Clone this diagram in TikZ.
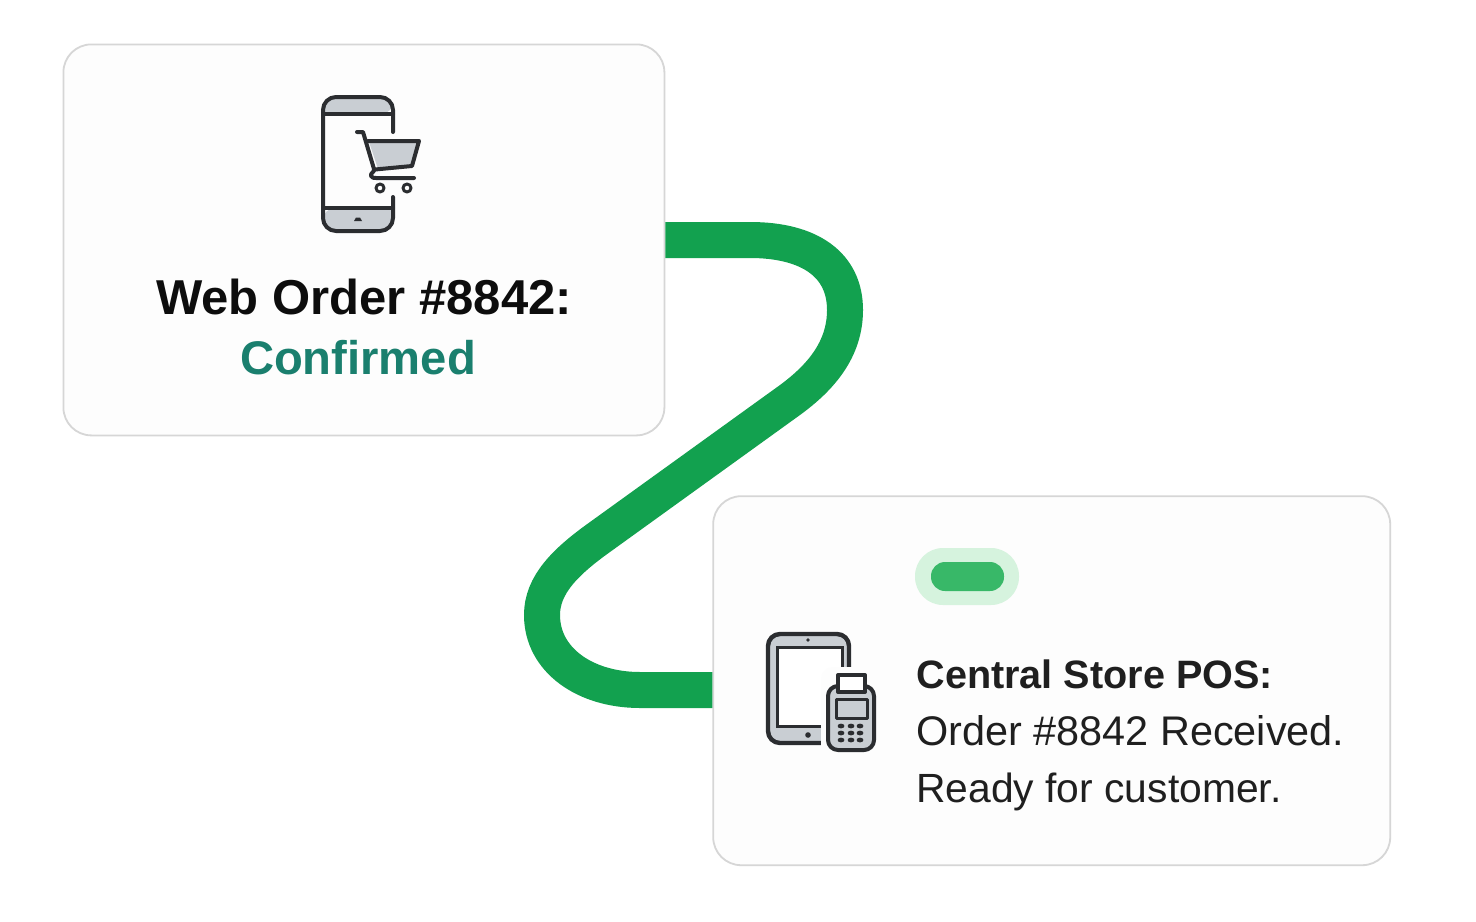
\documentclass[tikz,border=0pt]{standalone}
\usepackage{xcolor}
\usepackage{fontspec}
\setmainfont{Liberation Sans}
\usetikzlibrary{positioning, shapes.geometric}
\definecolor{linkgreen}{HTML}{12A14F}
\definecolor{pillgreen}{HTML}{38B868}
\definecolor{pillglow}{HTML}{D6F3DE}
\definecolor{okteal}{HTML}{1A7F6E}
\definecolor{iconink}{HTML}{2B2D30}
\definecolor{icongray}{HTML}{C9CED3}
\definecolor{cardfill}{HTML}{FDFDFD}
\begin{document}
\begin{tikzpicture}[
  x=0.5pt, y=-0.5pt,
  card/.style={rectangle, draw=black!16, line width=0.9pt, rounded corners=14pt,
               fill=cardfill, inner sep=0pt},
  titletext/.style={inner sep=0pt, font=\fontsize{24.5}{30}\selectfont\bfseries, text=black!95},
  statustext/.style={inner sep=0pt, font=\fontsize{23.6}{30}\selectfont\bfseries, text=okteal},
  postext/.style={inner sep=0pt, anchor=base west, font=\fontsize{20.7}{25}\selectfont, text=black!88},
  link/.style={linkgreen, line width=18pt},
  ink/.style={draw=iconink, line width=2pt, line join=round, line cap=round},
  thinink/.style={draw=iconink, line width=1.5pt, line join=round, line cap=round},
  key/.style={ellipse, fill=iconink, inner sep=0pt, minimum width=3.4pt, minimum height=2.4pt}
]
\useasboundingbox[fill=white] (0,0) rectangle (1476,921);

% Cards
\node[card, minimum width=300.5pt, minimum height=195.5pt, anchor=north west] (web) at (62.5,43.5) {};
\node[card, minimum width=338.5pt, minimum height=184.5pt, below right=29.5pt and 23.5pt of web] (pos) {};

% Labels
\node[titletext, anchor=base] (webtitle) at (364,314.5) {Web Order \#8842:};
\node[statustext, anchor=base] (webstatus) at (358,374) {Confirmed};
\node[postext, font=\fontsize{19.8}{25}\selectfont\bfseries] (posname) at (916,688.5) {Central Store POS:};
\node[postext, below=28.5pt of posname.base west, anchor=base west] (posorder) {Order \#8842 Received.};
\node[postext, below=28.5pt of posorder.base west, anchor=base west, font=\fontsize{20.4}{25}\selectfont] (posready) {Ready for customer.};

% Status pill
\node[rectangle, rounded corners=14pt, fill=pillglow, minimum width=52pt, minimum height=28.5pt,
      inner sep=0pt] (glow) at (967,576.5) {};
\node[rectangle, rounded corners=7pt, fill=pillgreen,
      minimum width=36.5pt, minimum height=14.5pt, inner sep=0pt] (pill) at (967.5,576.5) {};

% Link between the cards
\coordinate (webport) at (web.east |- 0,240);
\coordinate (posport) at (pos.west |- 0,690);
\draw[link] (webport) -- (750,240)
  .. controls (810,240) and (845,265) .. (845,310)
  .. controls (845,350) and (820,378) .. (790,400)
  -- (600,537)
  .. controls (565,562) and (542,585) .. (542,615)
  .. controls (542,660) and (585,690) .. (640,690)
  -- (posport);

% Phone icon
\fill[icongray, rounded corners=6pt] (323,114) -- (323,97) -- (393,97) -- (393,114) [sharp corners] -- cycle;
\fill[icongray, rounded corners=6pt] (393,208) -- (393,231) -- (323,231) -- (323,208) [sharp corners] -- cycle;
\draw[ink, rounded corners=6.5pt] (393,132) -- (393,97) -- (323,97) -- (323,231) -- (393,231) -- (393,197);
\draw[ink] (323,114) -- (393,114) (323,208) -- (393,208);
\fill[iconink] (354,221) -- (356,217.5) -- (360,217.5) -- (362,221) -- cycle;

% Cart on the phone
\fill[icongray] (369,142) -- (419,142) -- (412,166) -- (378,169) -- cycle;
\draw[ink] (357,132) -- (363,132) -- (374,169) .. controls (375,172) and (370,173) .. (371,176)
  .. controls (372,178) and (374,178) .. (376,178) -- (414,178);
\draw[ink] (368,141) -- (419,141) -- (412,166) -- (375,169.5);
\draw[thinink, fill=white] (380,188) circle[radius=4];
\draw[thinink, fill=white] (407,188) circle[radius=4];

% Tablet icon
\draw[iconink, line width=2.2pt, fill=icongray, rounded corners=6pt] (768,634) rectangle (849,743);
\draw[iconink, line width=1.5pt, fill=white] (777,647) rectangle (842,726);
\fill[iconink] (808,640) circle[radius=1.8];
\fill[iconink] (808,735) circle[radius=2.8];

% Card terminal
\fill[cardfill, rounded corners=6pt] (821,667) rectangle (881,758);
\draw[ink, fill=icongray, rounded corners=5pt] (828,686) rectangle (874,750);
\draw[ink, fill=white] (838,675) rectangle (865,692);
\draw[thinink, fill=icongray] (836,699) rectangle (867,718);
\foreach \xkey in {841,851,860}
  \foreach \ykey in {726,733,740}
    \node[key] (key\xkey\ykey) at (\xkey,\ykey) {};
\end{tikzpicture}
\end{document}
